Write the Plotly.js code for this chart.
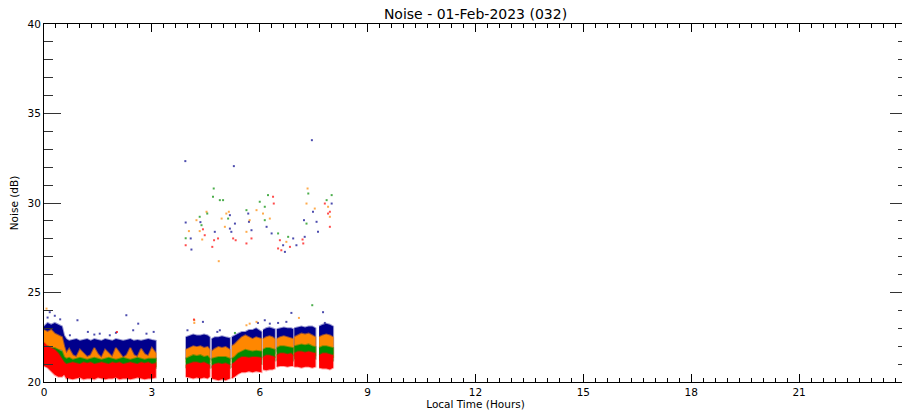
<!DOCTYPE html>
<html><head><meta charset="utf-8">
<script src="https://cdn.plot.ly/plotly-3.0.1.min.js"></script>
<style>html,body{margin:0;padding:0;overflow:hidden;background:#fff}#chart{width:908px;height:419px}</style>
</head><body><div id="chart"></div>
<script>
const chartTitle = "Noise - 01-Feb-2023 (032)";
const xTitle = "Local Time (Hours)";
const yTitle = "Noise (dB)";
const xTickVals = [0,3,6,9,12,15,18,21];
const yTickVals = [20,25,30,35,40];

// band time grid (hours); null = data gap
const T = [0.00,0.10,0.20,0.30,0.40,0.50,0.56,0.62,0.70,0.80,0.90,1.00,1.10,1.20,1.30,1.40,1.50,1.60,1.70,1.80,1.90,2.00,2.10,2.20,2.30,2.40,2.50,2.60,2.70,2.80,2.90,3.00,3.11,null,
3.94,4.05,4.15,4.25,4.35,4.45,4.55,4.61,null,
4.66,4.75,4.85,4.95,5.05,5.17,null,
5.22,5.30,5.40,5.50,5.60,5.70,5.80,5.90,6.05,null,
6.09,6.18,6.27,6.35,6.42,null,
6.47,6.57,6.67,6.77,6.87,6.93,null,
6.96,7.06,7.16,7.26,7.36,7.46,7.55,null,
7.65,7.75,7.85,7.95,8.04];

const navyHi = [23.1,23.3,23.2,23.3,23.2,23.1,22.6,22.4,22.3,22.35,22.4,22.3,22.35,22.4,22.3,22.4,22.35,22.3,22.4,22.35,22.3,22.4,22.35,22.3,22.35,22.4,22.3,22.35,22.3,22.35,22.4,22.35,22.3,null,
22.5,22.6,22.65,22.6,22.6,22.65,22.6,22.5,null,
22.4,22.5,22.5,22.55,22.5,22.45,null,
22.5,22.6,22.7,22.8,22.8,22.9,22.9,23.0,22.8,null,
22.9,23.0,23.05,23.0,22.95,null,
22.95,23.0,23.05,23.0,23.0,22.95,null,
23.0,23.05,23.1,23.05,23.1,23.1,23.0,null,
23.1,23.2,23.25,23.2,23.1];
const navyLo = [21.8,21.8,21.8,21.8,21.8,21.8,21.5,21.2,21.2,21.2,21.2,21.2,21.2,21.2,21.2,21.2,21.2,21.2,21.2,21.2,21.2,21.2,21.2,21.2,21.2,21.2,21.2,21.2,21.2,21.2,21.2,21.2,21.2,null,
21.3,21.3,21.3,21.3,21.3,21.3,21.3,21.3,null,
21.2,21.2,21.2,21.2,21.2,21.2,null,
21.3,21.3,21.4,21.4,21.4,21.4,21.4,21.4,21.4,null,
21.6,21.6,21.6,21.6,21.6,null,
21.7,21.7,21.7,21.7,21.7,21.7,null,
21.7,21.7,21.7,21.7,21.7,21.7,21.7,null,
21.6,21.6,21.6,21.6,21.6];

const orangeHi = [22.9,22.8,22.9,22.7,22.6,22.5,22.0,21.6,21.85,21.5,21.4,21.8,21.6,21.4,21.5,21.9,21.55,21.35,21.8,21.6,21.4,21.9,21.6,21.35,21.5,21.9,21.5,21.4,21.85,21.55,21.45,21.9,21.6,null,
21.8,21.9,22.0,21.95,22.0,21.9,21.95,21.8,null,
21.7,21.85,21.95,21.9,21.95,21.8,null,
22.0,22.1,22.3,22.5,22.6,22.5,22.4,22.5,22.4,null,
22.4,22.5,22.55,22.5,22.4,null,
22.4,22.5,22.55,22.5,22.45,22.4,null,
22.5,22.6,22.7,22.65,22.7,22.6,22.5,null,
22.5,22.6,22.65,22.6,22.5];
const orangeLo = [21.8,21.8,21.8,21.8,21.8,21.8,21.2,20.9,20.9,20.9,20.9,20.9,20.9,20.9,20.9,20.9,20.9,20.9,20.9,20.9,20.9,20.9,20.9,20.9,20.9,20.9,20.9,20.9,20.9,20.9,20.9,20.9,20.9,null,
21.1,21.1,21.1,21.1,21.1,21.1,21.1,21.1,null,
21.0,21.0,21.0,21.0,21.0,21.0,null,
21.1,21.1,21.3,21.3,21.3,21.3,21.3,21.3,21.3,null,
21.4,21.4,21.4,21.4,21.4,null,
21.5,21.5,21.5,21.5,21.5,21.5,null,
21.5,21.5,21.5,21.5,21.5,21.5,21.5,null,
21.4,21.4,21.4,21.4,21.4];

const greenHi = [22.0,22.0,21.9,21.9,21.8,21.7,21.4,21.3,21.35,21.25,21.3,21.35,21.3,21.25,21.3,21.35,21.3,21.25,21.3,21.35,21.3,21.25,21.3,21.35,21.3,21.25,21.3,21.35,21.3,21.25,21.3,21.3,21.3,null,
21.3,21.4,21.5,21.45,21.5,21.4,21.45,21.3,null,
21.3,21.35,21.4,21.4,21.4,21.3,null,
21.3,21.4,21.6,21.7,21.8,21.75,21.7,21.75,21.7,null,
21.8,21.9,21.9,21.85,21.8,null,
21.9,22.0,22.0,21.95,21.9,21.9,null,
22.0,22.05,22.1,22.05,22.1,22.0,21.95,null,
21.9,22.0,22.0,21.95,21.9];
const greenLo = [21.2,21.2,21.2,21.2,21.2,21.2,20.9,20.8,20.8,20.8,20.8,20.8,20.8,20.8,20.8,20.8,20.8,20.8,20.8,20.8,20.8,20.8,20.8,20.8,20.8,20.8,20.8,20.8,20.8,20.8,20.8,20.8,20.8,null,
20.8,20.8,20.8,20.8,20.8,20.8,20.8,20.8,null,
20.8,20.8,20.8,20.8,20.8,20.8,null,
20.8,20.9,21.0,21.0,21.0,21.0,21.0,21.0,21.0,null,
21.2,21.2,21.2,21.2,21.2,null,
21.2,21.2,21.2,21.2,21.2,21.2,null,
21.3,21.3,21.3,21.3,21.3,21.3,21.3,null,
21.2,21.2,21.2,21.2,21.2];

const redHi = [22.2,22.0,21.9,21.8,21.6,21.3,21.1,21.0,21.05,21.1,21.05,21.0,21.1,21.05,21.1,21.0,21.05,21.1,21.05,21.0,21.1,21.05,21.1,21.0,21.05,21.1,21.05,21.0,21.1,21.05,21.1,21.0,21.05,null,
20.95,21.05,21.1,21.1,21.05,21.1,21.0,20.95,null,
20.9,21.0,21.05,21.0,21.05,20.95,null,
21.0,21.1,21.3,21.4,21.4,21.35,21.4,21.4,21.35,null,
21.4,21.5,21.5,21.45,21.4,null,
21.5,21.6,21.6,21.55,21.6,21.5,null,
21.6,21.7,21.7,21.65,21.7,21.65,21.6,null,
21.5,21.6,21.6,21.55,21.5];
const redLo = [20.9,20.8,20.6,20.4,20.3,20.3,20.4,20.2,20.2,20.15,20.2,20.25,20.15,20.2,20.2,20.15,20.25,20.2,20.15,20.2,20.2,20.25,20.15,20.2,20.2,20.15,20.2,20.25,20.2,20.15,20.2,20.2,20.25,null,
20.3,20.25,20.2,20.25,20.2,20.25,20.2,20.3,null,
20.2,20.15,20.1,20.15,20.1,20.2,null,
20.2,20.3,20.45,20.55,20.55,20.6,20.55,20.6,20.55,null,
20.7,20.65,20.7,20.7,20.75,null,
20.85,20.9,20.9,20.85,20.9,20.9,null,
20.85,20.85,20.8,20.85,20.85,20.8,20.85,null,
20.8,20.75,20.75,20.7,20.8];

// scattered individual points
const navyPtT = [0.10,0.16,0.30,0.45,0.93,0.72,1.22,1.40,1.55,1.83,2.00,2.29,2.48,2.62,2.85,3.05,3.99,4.42,4.82,4.89,5.95,6.14,6.28,6.51,6.74,6.88,7.76,7.81,
3.93,5.28,7.45,3.94,4.08,4.10,4.35,4.75,5.17,5.17,5.21,5.31,5.68,5.70,5.77,6.19,6.33,6.65,6.70,6.93,7.02,7.23,7.25,7.48,7.58,7.62,8.00];
const navyPtY = [23.6,23.9,23.7,23.5,23.45,22.61,22.8,22.65,22.7,22.61,22.75,23.73,22.89,23.26,22.7,22.8,22.89,23.36,22.8,22.89,23.3,23.45,23.26,23.3,23.36,23.86,23.9,23.3,
32.34,32.06,33.51,28.91,28.02,27.40,28.93,28.39,29.32,28.57,28.39,28.85,29.41,28.95,28.48,28.67,28.30,27.64,27.27,28.02,27.64,29.04,28.11,29.51,28.95,28.39,29.97];
const orangePtT = [0.07,4.18,4.18,5.63,5.72,5.91,7.09,
4.03,4.24,4.33,4.40,4.52,4.94,5.03,5.07,5.14,4.86,5.72,5.63,5.91,6.09,6.28,6.74,7.30,7.33,7.53,7.90,7.95];
const orangePtY = [24.1,23.45,23.3,23.17,23.26,23.36,23.58,
28.43,29.04,28.43,27.96,29.51,29.13,28.67,29.41,29.51,26.75,29.04,28.39,29.60,29.41,29.13,27.83,29.97,30.81,29.69,29.79,29.23];
const greenPtT = [7.46,5.31,
3.94,4.33,4.38,4.54,4.70,4.72,4.89,4.98,5.12,5.63,6.00,6.14,6.14,6.23,6.51,6.79,7.30,7.35,7.86,8.00];
const greenPtY = [24.29,22.74,
28.03,29.23,28.76,29.41,30.35,30.81,30.16,30.16,29.13,29.60,30.07,29.04,29.79,30.44,28.30,28.11,28.85,30.53,30.16,30.44];
const redPtT = [2.03,4.17,
3.94,4.42,4.47,4.68,4.73,4.84,5.26,5.33,5.63,5.77,6.37,6.39,6.51,6.56,6.60,6.84,7.19,7.21,7.81,7.90,7.95,7.95];
const redPtY = [22.8,23.49,
27.64,28.53,28.20,27.55,27.92,28.02,28.02,27.92,27.74,28.02,30.35,29.97,27.46,27.92,27.36,27.55,27.96,27.74,29.97,29.41,29.51,28.67];

const NAVY = 'rgb(0,0,140)', ORANGE = 'rgb(255,135,0)', GREEN = 'rgb(0,140,0)', RED = 'rgb(255,0,0)';

function bandPolys(t, hi, lo) {
  const xs = [], ys = [];
  let seg = [];
  const flush = () => {
    if (!seg.length) return;
    seg.forEach(i => { xs.push(t[i]); ys.push(hi[i]); });
    seg.slice().reverse().forEach(i => { xs.push(t[i]); ys.push(lo[i]); });
    xs.push(null); ys.push(null);
    seg = [];
  };
  for (let i = 0; i < t.length; i++) {
    if (t[i] === null) flush(); else seg.push(i);
  }
  flush();
  return {xs, ys};
}
function band(hi, lo, color, edge) {
  const p = bandPolys(T, hi, lo);
  return {x: p.xs, y: p.ys, type: 'scatter', mode: 'lines', fill: 'toself', fillcolor: color,
          line: {color: edge, width: 2}, hoverinfo: 'skip', showlegend: false, connectgaps: false};
}
function pts(x, y, color) {
  return {x, y, type: 'scatter', mode: 'markers', showlegend: false,
          marker: {color, size: 2, symbol: 'square', opacity: 0.7, line: {width: 0}}};
}

const data = [
  band(navyHi, navyLo, NAVY, 'rgba(0,0,140,0.4)'),
  band(orangeHi, orangeLo, ORANGE, 'rgba(255,135,0,0.55)'),
  band(greenHi, greenLo, GREEN, 'rgba(0,140,0,0.45)'),
  band(redHi, redLo, RED, 'rgba(255,0,0,0.35)'),
  pts(navyPtT, navyPtY, NAVY),
  pts(orangePtT, orangePtY, ORANGE),
  pts(greenPtT, greenPtY, GREEN),
  pts(redPtT, redPtY, RED)
];

const font = {family: 'DejaVu Sans, sans-serif', size: 10.5, color: '#000'};
const layout = {
  width: 908, height: 419,
  margin: {l: 44, r: 1, t: 24, b: 37},
  paper_bgcolor: '#fff', plot_bgcolor: '#fff',
  font: font,
  title: {text: chartTitle, font: {family: 'DejaVu Sans, sans-serif', size: 14, color: '#000'},
          x: 0.5, xref: 'paper', xanchor: 'center', y: 1 - 14.5/419, yref: 'container', yanchor: 'middle'},
  xaxis: {
    range: [0, 24], tickmode: 'array', tickvals: xTickVals, ticktext: xTickVals.map(String),
    ticks: 'inside', ticklen: 8, tickwidth: 1, tickcolor: '#000',
    minor: {tickmode: 'linear', tick0: 0, dtick: 1/3, ticks: 'inside', ticklen: 4, tickwidth: 1, tickcolor: '#000', showgrid: false},
    showline: true, linecolor: '#000', linewidth: 1, mirror: 'allticks',
    showgrid: false, zeroline: false, fixedrange: true,
    title: {text: xTitle, font: font, standoff: 4}
  },
  yaxis: {
    range: [20, 40], tickmode: 'array', tickvals: yTickVals, ticktext: yTickVals.map(String),
    ticks: 'inside', ticklen: 17, tickwidth: 1, tickcolor: '#333',
    minor: {tickmode: 'linear', tick0: 20, dtick: 1, ticks: 'inside', ticklen: 9, tickwidth: 1, tickcolor: '#333', showgrid: false},
    showline: true, linecolor: '#000', linewidth: 1, mirror: 'allticks',
    showgrid: false, zeroline: false, fixedrange: true,
    title: {text: yTitle, font: font, standoff: 6}
  }
};

Plotly.newPlot('chart', data, layout, {staticPlot: true, displayModeBar: false});
</script>
</body></html>
